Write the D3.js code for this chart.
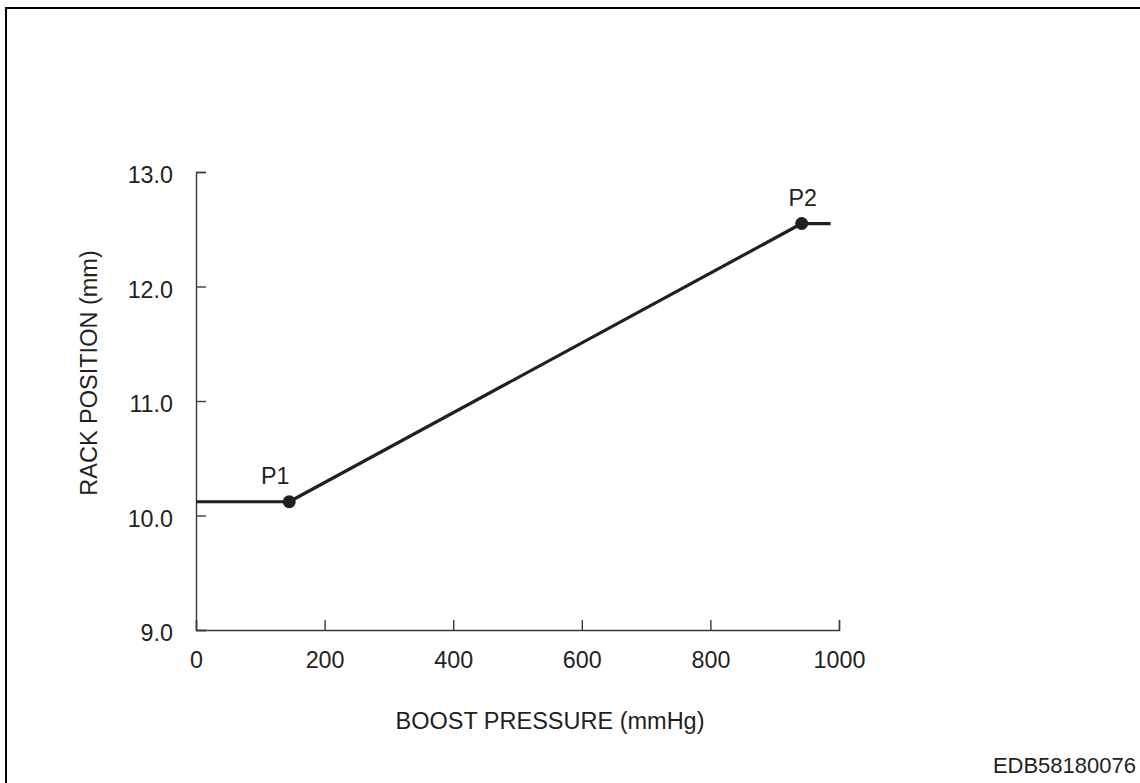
<!DOCTYPE html>
<html>
<head>
<meta charset="utf-8">
<script src="https://cdn.jsdelivr.net/npm/d3@7/dist/d3.min.js"></script>
<style>
  html, body { margin: 0; padding: 0; background: #fff; }
  svg text { font-family: "Liberation Sans", Arial, sans-serif; fill: #231f20; }
</style>
</head>
<body>
<svg id="chart" width="1140" height="783"></svg>
<script>
// Data
const boostPressure = [0, 145, 942, 987];
const rackPosition = [10.12, 10.12, 12.55, 12.55];
const pointLabels = ["P1", "P2"];
const pointPressure = [145, 942];
const pointRack = [10.12, 12.55];
const xTicks = [0, 200, 400, 600, 800, 1000];
const yTicks = [9.0, 10.0, 11.0, 12.0, 13.0];
const xTitle = "BOOST PRESSURE (mmHg)";
const yTitle = "RACK POSITION (mm)";
const figureId = "EDB58180076";

const svg = d3.select("#chart");
const W = 1140, H = 783;

// Frame (top and left lines)
svg.append("path")
  .attr("d", `M6,${H}V8H${W}`)
  .attr("fill", "none").attr("stroke", "#000").attr("stroke-width", 2);

const x = d3.scaleLinear().domain([0, 1000]).range([196, 839]);
const y = d3.scaleLinear().domain([9, 13]).range([630, 172]);

const axisColor = "#3a3a3a";
const fs = 23.3;

// Y axis
const gy = svg.append("g").attr("transform", `translate(${x(0)},0)`)
  .call(d3.axisLeft(y).tickValues(yTicks).tickFormat(d3.format(".1f"))
        .tickSizeInner(-10).tickSizeOuter(-10).tickPadding(23));
// X axis
const gx = svg.append("g").attr("transform", `translate(0,${y(9)})`)
  .call(d3.axisBottom(x).tickValues(xTicks).tickFormat(d3.format("d"))
        .tickSizeInner(-10).tickSizeOuter(-10).tickPadding(21));

[gx, gy].forEach(g => {
  g.attr("font-size", fs).attr("font-family", "Liberation Sans, Arial, sans-serif");
  g.select(".domain").attr("stroke", axisColor).attr("stroke-width", 1.4);
  g.selectAll(".tick line").attr("stroke", axisColor).attr("stroke-width", 1.4);
  g.selectAll(".tick text").attr("font-size", fs).attr("fill", "#231f20");
});
gy.selectAll(".tick text").attr("dy", "0.45em");

// Line
const line = d3.line().x((d, i) => x(boostPressure[i])).y((d, i) => y(rackPosition[i]));
svg.append("path")
  .datum(boostPressure)
  .attr("d", line)
  .attr("fill", "none").attr("stroke", "#231f20").attr("stroke-width", 3.2)
  .attr("stroke-linejoin", "round");

// Points
svg.selectAll("circle.pt").data(pointLabels).join("circle")
  .attr("class", "pt")
  .attr("cx", (d, i) => x(pointPressure[i]))
  .attr("cy", (d, i) => y(pointRack[i]))
  .attr("r", 6.5).attr("fill", "#231f20");

svg.selectAll("text.pl").data(pointLabels).join("text")
  .attr("class", "pl")
  .attr("x", (d, i) => x(pointPressure[i]) + (i === 0 ? -14 : 1))
  .attr("y", (d, i) => y(pointRack[i]) - 18)
  .attr("text-anchor", "middle")
  .attr("font-size", fs)
  .text(d => d);

// Titles
svg.append("text").attr("x", 550).attr("y", 728.5)
  .attr("text-anchor", "middle").attr("font-size", 23.5).text(xTitle);

svg.append("text")
  .attr("transform", `translate(97,373) rotate(-90)`)
  .attr("text-anchor", "middle").attr("font-size", 23.5).text(yTitle);

svg.append("text").attr("x", 1136).attr("y", 773)
  .attr("text-anchor", "end").attr("font-size", 22).text(figureId);
</script>
</body>
</html>
